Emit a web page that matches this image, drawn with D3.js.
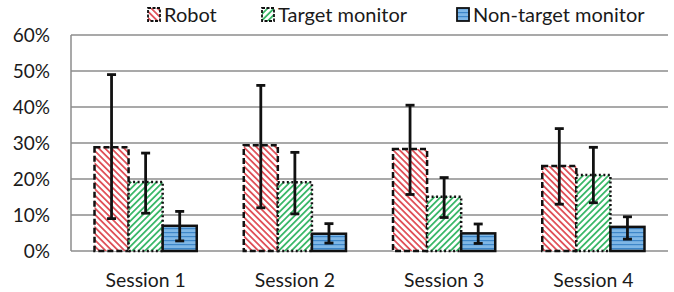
<!DOCTYPE html>
<html>
<head>
<meta charset="utf-8">
<script src="https://cdn.jsdelivr.net/npm/d3@7"></script>
<style>
body{margin:0;background:#fff;}
text{font-family:Lato,sans-serif;fill:#1a1a1a;}
</style>
</head>
<body>
<svg id="chart" width="674" height="292"></svg>
<script>
var sessions = ["Session 1","Session 2","Session 3","Session 4"];
var seriesNames = ["Robot","Target monitor","Non-target monitor"];
var robot = [28.8, 29.4, 28.3, 23.6];
var robotLo = [9, 12, 15.7, 13];
var robotHi = [49, 46, 40.5, 34];
var target = [19.2, 19.1, 15.1, 21.1];
var targetLo = [10.5, 10.3, 9.3, 13.4];
var targetHi = [27.2, 27.4, 20.4, 28.8];
var nontarget = [7, 4.8, 4.9, 6.7];
var nontargetLo = [2.8, 2.2, 2.1, 3.3];
var nontargetHi = [11, 7.6, 7.5, 9.5];
var yTicks = [0,10,20,30,40,50,60];

var svg = d3.select("#chart");
var margin = {left:71, right:6, top:35, bottom:41};
var W = 674, H = 292;

var x = d3.scaleBand().domain(sessions).range([margin.left, W-margin.right]).paddingInner(0.315).paddingOuter(0.1575);
var x1 = d3.scaleBand().domain(seriesNames).range([0, x.bandwidth()]);
var y = d3.scaleLinear().domain([0,60]).range([H-margin.bottom, margin.top]);

// patterns
var defs = svg.append("defs");
var p1 = defs.append("pattern").attr("id","pRobot").attr("patternUnits","userSpaceOnUse")
    .attr("width",4.5).attr("height",4.5).attr("patternTransform","rotate(-45)");
p1.append("rect").attr("width",4.5).attr("height",4.5).attr("fill","#fff");
p1.append("rect").attr("width",1.8).attr("height",4.5).attr("fill","#e0525a");
var p2 = defs.append("pattern").attr("id","pTarget").attr("patternUnits","userSpaceOnUse")
    .attr("width",4.5).attr("height",4.5).attr("patternTransform","rotate(45)");
p2.append("rect").attr("width",4.5).attr("height",4.5).attr("fill","#fff");
p2.append("rect").attr("width",1.8).attr("height",4.5).attr("fill","#3cb86a");
var p3 = defs.append("pattern").attr("id","pNon").attr("patternUnits","userSpaceOnUse")
    .attr("width",4).attr("height",4);
p3.append("rect").attr("width",4).attr("height",4).attr("fill","#7fb7e6");
p3.append("rect").attr("width",4).attr("height",1.2).attr("fill","#3d86c8");

var fills = {"Robot":"url(#pRobot)","Target monitor":"url(#pTarget)","Non-target monitor":"url(#pNon)"};
var dashes = {"Robot":"6,3","Target monitor":"2,2.5","Non-target monitor":null};

// gridlines
svg.append("g").selectAll("line").data(yTicks).enter().append("line")
    .attr("x1", margin.left).attr("x2", W-margin.right)
    .attr("y1", function(d){return y(d);}).attr("y2", function(d){return y(d);})
    .attr("stroke","#8c8c8c").attr("stroke-width",1.5);
svg.append("line").attr("x1",margin.left).attr("x2",margin.left)
    .attr("y1",y(60)).attr("y2",y(0)).attr("stroke","#8c8c8c").attr("stroke-width",1.5);

// y labels
var yAxis = d3.axisLeft(y).tickValues(yTicks).tickFormat(function(d){return d+"%";}).tickSize(0).tickPadding(0);
var gy = svg.append("g").attr("transform","translate(50,0)").call(yAxis);
gy.select(".domain").remove();
gy.selectAll("text").style("font-size","19px").attr("font-family","Lato").attr("fill","#1a1a1a");

// x labels
var xAxis = d3.axisBottom(x).tickSize(0).tickPadding(0);
var gx = svg.append("g").attr("transform","translate(0,273)").call(xAxis);
gx.select(".domain").remove();
gx.selectAll("text").style("font-size","19.4px").attr("font-family","Lato").attr("fill","#1a1a1a");

var rows = [];
sessions.forEach(function(s,i){
    rows.push({s:s, k:"Robot", v:robot[i], lo:robotLo[i], hi:robotHi[i]});
    rows.push({s:s, k:"Target monitor", v:target[i], lo:targetLo[i], hi:targetHi[i]});
    rows.push({s:s, k:"Non-target monitor", v:nontarget[i], lo:nontargetLo[i], hi:nontargetHi[i]});
});

svg.append("g").selectAll("rect").data(rows).enter().append("rect")
    .attr("x", function(d){return x(d.s)+x1(d.k);})
    .attr("y", function(d){return y(d.v);})
    .attr("width", x1.bandwidth())
    .attr("height", function(d){return y(0)-y(d.v);})
    .attr("fill", function(d){return fills[d.k];})
    .attr("stroke","#111").attr("stroke-width",2.5)
    .attr("stroke-dasharray", function(d){return dashes[d.k];});

var eb = svg.append("g").selectAll("g").data(rows).enter().append("g")
    .attr("stroke","#111").attr("stroke-width",2.8);
eb.append("line")
    .attr("x1", function(d){return x(d.s)+x1(d.k)+x1.bandwidth()/2;})
    .attr("x2", function(d){return x(d.s)+x1(d.k)+x1.bandwidth()/2;})
    .attr("y1", function(d){return y(d.hi);}).attr("y2", function(d){return y(d.lo);});
["hi","lo"].forEach(function(key){
    eb.append("line")
        .attr("x1", function(d){return x(d.s)+x1(d.k)+x1.bandwidth()/2-4.5;})
        .attr("x2", function(d){return x(d.s)+x1(d.k)+x1.bandwidth()/2+4.5;})
        .attr("y1", function(d){return y(d[key]);}).attr("y2", function(d){return y(d[key]);});
});

// legend
var legX = [148, 262, 457];
var leg = svg.append("g").selectAll("g").data(seriesNames).enter().append("g")
    .attr("transform", function(d,i){return "translate("+legX[i]+",0)";});
leg.append("rect").attr("width",12).attr("height",13).attr("y",8)
    .attr("fill", function(d){return fills[d];})
    .attr("stroke","#111").attr("stroke-width",1.8)
    .attr("stroke-dasharray", function(d){return dashes[d] ? "3,1.5" : null;});
leg.append("text").attr("x",16).attr("y",22).style("font-size","20px")
    .text(function(d){return d;});
</script>
</body>
</html>
